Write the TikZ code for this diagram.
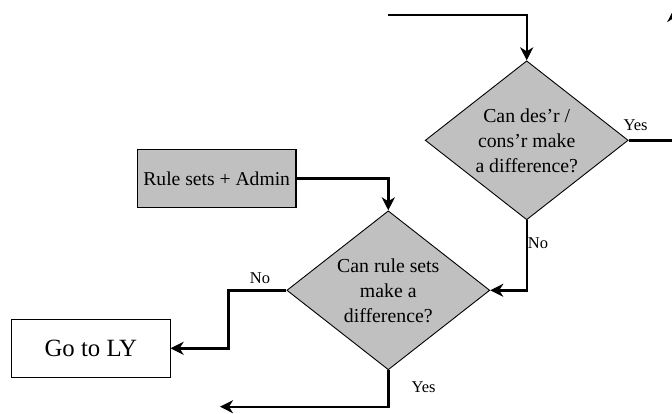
\documentclass[tikz,border=0pt]{standalone}
\usepackage{fontspec}
\setmainfont{Liberation Serif}
\usetikzlibrary{shapes.geometric,arrows.meta}
\definecolor{boxgray}{RGB}{192,192,192}
\begin{document}
\begin{tikzpicture}[x=1pt,y=-1pt,
  decision/.style={diamond, draw=black, line width=0.9pt, fill=boxgray,
    minimum width=203pt, minimum height=159pt, inner sep=0pt, aspect=1.28,
    align=center, font=\fontsize{19.8}{25}\selectfont},
  process/.style={rectangle, draw=black, line width=1.1pt,
    minimum width=158.5pt, minimum height=58.5pt, inner sep=0pt,
    align=center},
  conn/.style={line width=2.4pt, -{Stealth[length=13pt,width=13pt,inset=4pt]}},
  lbl/.style={font=\fontsize{16.5}{18}\selectfont, inner sep=0pt}]
  \useasboundingbox (0,0) rectangle (672,413);

  % decisions
  \node[decision] (d1) at (526.7,140.3) {Can des'r /\\cons'r make\\a difference?};
  \node[decision] (d2) at (388.3,290.3) {Can rule sets\\make a\\difference?};

  % boxes
  \node[process, fill=boxgray, font=\fontsize{19.6}{22}\selectfont] (rules) at (216.7,178.5) {Rule sets + Admin};
  \node[process, fill=white, font=\fontsize{24.8}{28}\selectfont] (go) at (90.8,348.3) {Go to LY};

  % free ends and bends
  \coordinate (in) at (388.3,15);
  \coordinate (up) at (673.8,9);
  \coordinate (nobend) at (228.3,290.3);
  \coordinate (yesout) at (220,406.7);

  % connectors
  \draw[conn] (in) -| (d1.north);
  \draw[conn] (d1.east) -| (up);
  \draw[conn] (d1.south) |- (d2.east);
  \draw[conn] (rules.east) -| (d2.north);
  \draw[conn] (d2.west) -- (nobend) |- (go.east);
  \draw[conn] (d2.south) |- (yesout);

  % branch labels
  \node[lbl] (l1) at (635.5,125.5) {Yes};
  \node[lbl] (l2) at (538,243.5) {No};
  \node[lbl] (l3) at (260,278.5) {No};
  \node[lbl] (l4) at (423.5,387.5) {Yes};
\end{tikzpicture}
\end{document}
